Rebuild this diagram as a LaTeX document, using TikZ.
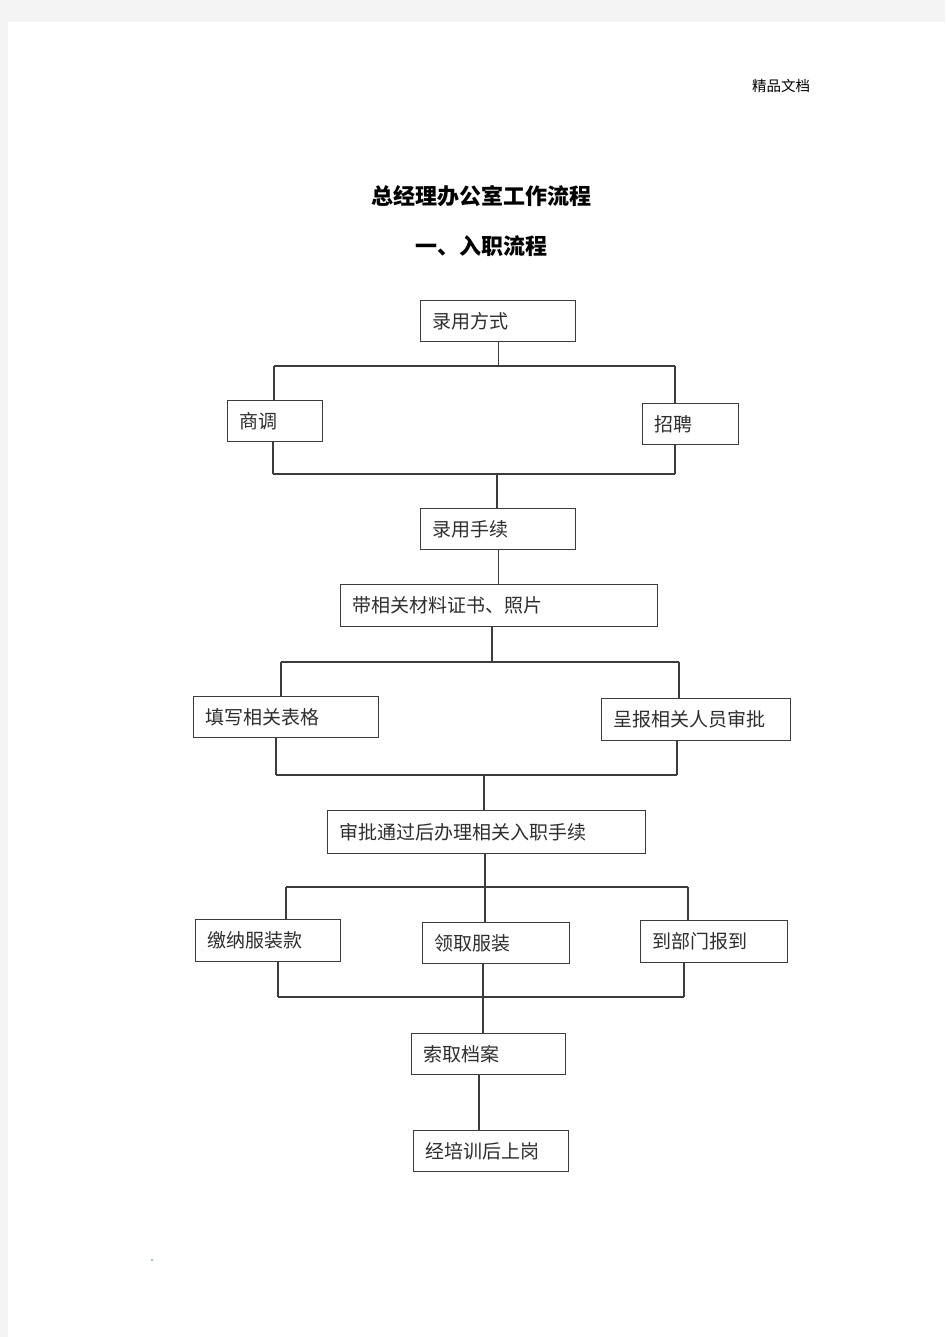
\documentclass[tikz,border=0pt]{standalone}
\usepackage{fontspec}
\newfontfamily\cjk{Noto Sans CJK SC}
\usetikzlibrary{positioning,calc}
\definecolor{pagegray}{HTML}{F4F4F4}
\definecolor{boxc}{HTML}{3C3C3C}
\definecolor{txtc}{HTML}{2E2E2E}
\definecolor{dotc}{HTML}{2A8BD0}
\tikzset{%
  block/.style = {draw=boxc, line width=1.3pt, anchor=north west,
    minimum height=41pt, inner xsep=12pt, inner ysep=0pt, align=left,
    text=txtc, font=\cjk\fontsize{19}{19}\selectfont}, % box
  link/.style  = {draw=boxc, line width=1.2pt}, % connector
  head/.style  = {font=\cjk\bfseries\fontsize{22}{22}\selectfont} % title
}

\begin{document}
\begin{tikzpicture}[x=1pt, y=-1pt]
  \useasboundingbox (0,0) rectangle (945,1337);
  \fill[pagegray] (0,0) rectangle (945,1337);
  \fill[white] (8,22) rectangle (945,1337);

  % page header and titles
  \node[font=\cjk\fontsize{14.5}{14.5}\selectfont] (mark) at (781,86) {精品文档};
  \node[head] (title) at (481,196) {总经理办公室工作流程};
  \node[head] (sub) at (481,246) {一、入职流程};

  % boxes
  \node[block, text width=131pt] (fangshi) at (420,300) {录用方式};
  \node[block, text width=71pt] (shangdiao) at (227,400) {商调};
  \node[block, text width=72pt] (zhaopin) at (642,403) {招聘};
  \node[block, text width=131pt] (shouxu) at (420,508) {录用手续};
  \node[block, text width=293pt, minimum height=42pt] (cailiao) at (340,584) {带相关材料证书、照片};
  \node[block, text width=161pt] (tianxie) at (193,696) {填写相关表格};
  \node[block, text width=165pt, minimum height=42pt] (chengbao) at (601,698) {呈报相关人员审批};
  \node[block, text width=294pt, minimum height=43pt] (banli) at (327,810) {审批通过后办理相关入职手续};
  \node[block, text width=121pt, minimum height=42pt] (jiaona) at (195,919) {缴纳服装款};
  \node[block, text width=123pt] (lingqu) at (422,922) {领取服装};
  \node[block, text width=123pt, minimum height=42pt] (baodao) at (640,920) {到部门报到};
  \node[block, text width=130pt] (dangan) at (411,1033) {索取档案};
  \node[block, text width=131pt] (shanggang) at (413,1130) {经培训后上岗};

  % bus bars
  \coordinate (aL) at (274,366); \coordinate (aR) at (675,366);
  \coordinate (bL) at (273,474); \coordinate (bM) at (497,474); \coordinate (bR) at (675,474);
  \coordinate (cL) at (281,662); \coordinate (cM) at (492,662); \coordinate (cR) at (679,662);
  \coordinate (dL) at (276,775); \coordinate (dM) at (484,775); \coordinate (dR) at (677,775);
  \coordinate (eL) at (286,887); \coordinate (eM) at (485,887); \coordinate (eR) at (688,887);
  \coordinate (fL) at (278,997); \coordinate (fM) at (483,997); \coordinate (fR) at (684,997);
  \coordinate (gM) at (479,1100);

  \draw[link] (aL) -- (aR);
  \draw[link] (fangshi.south) -- (fangshi.south |- aL);
  \draw[link] (aL) -- (aL |- shangdiao.north);
  \draw[link] (aR) -- (aR |- zhaopin.north);

  \draw[link] (bL) -- (bR);
  \draw[link] (bL |- shangdiao.south) -- (bL);
  \draw[link] (bR |- zhaopin.south) -- (bR);
  \draw[link] (bM) -- (bM |- shouxu.north);

  \draw[link] (shouxu.south) -- (shouxu.south |- cailiao.north);

  \draw[link] (cL) -- (cR);
  \draw[link] (cM |- cailiao.south) -- (cM);
  \draw[link] (cL) -- (cL |- tianxie.north);
  \draw[link] (cR) -- (cR |- chengbao.north);

  \draw[link] (dL) -- (dR);
  \draw[link] (dL |- tianxie.south) -- (dL);
  \draw[link] (dR |- chengbao.south) -- (dR);
  \draw[link] (dM) -- (dM |- banli.north);

  \draw[link] (eL) -- (eR);
  \draw[link] (eM |- banli.south) -- (eM);
  \draw[link] (eL) -- (eL |- jiaona.north);
  \draw[link] (eM) -- (eM |- lingqu.north);
  \draw[link] (eR) -- (eR |- baodao.north);

  \draw[link] (fL) -- (fR);
  \draw[link] (fL |- jiaona.south) -- (fL);
  \draw[link] (fM |- lingqu.south) -- (fM);
  \draw[link] (fR |- baodao.south) -- (fR);
  \draw[link] (fM) -- (fM |- dangan.north);

  \draw[link] (gM |- dangan.south) -- (gM |- shanggang.north);

  \fill[dotc] (152,1260) circle (0.9);
\end{tikzpicture}
\end{document}
